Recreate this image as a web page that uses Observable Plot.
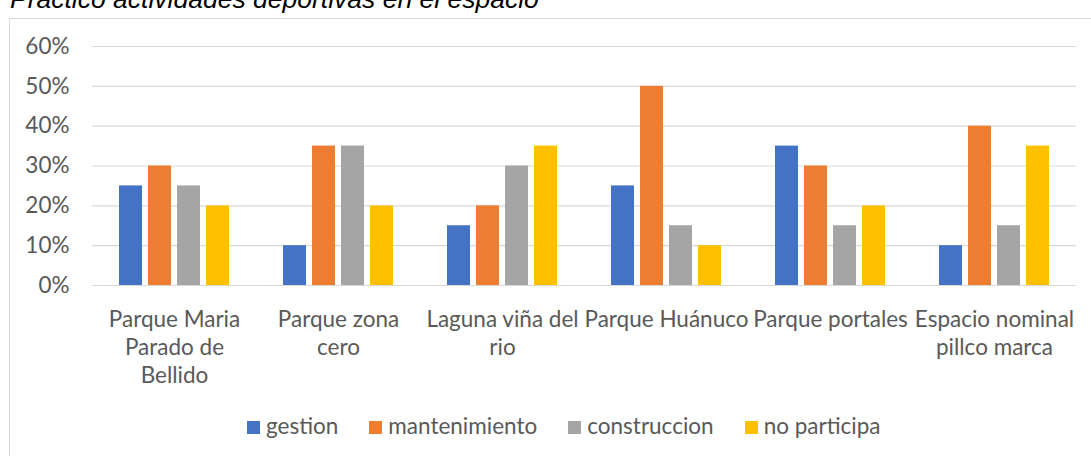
<!DOCTYPE html>
<html>
<head>
<meta charset="utf-8">
<script src="https://cdn.jsdelivr.net/npm/d3@7"></script>
<script src="https://cdn.jsdelivr.net/npm/@observablehq/plot@0.6"></script>
<style>
body{margin:0;background:#fff;overflow:hidden;width:1091px;height:456px;position:relative;}
#title{position:absolute;left:10px;top:-14.4px;font:italic 26.5px/26.5px "Liberation Sans",Arial,sans-serif;color:#000;white-space:nowrap;z-index:3;}
#box{position:absolute;left:9px;top:18px;width:1200px;height:600px;border:1px solid #d9d9d9;box-sizing:border-box;z-index:0;}
#chart{position:absolute;left:0;top:0;z-index:1;}
#legend{position:absolute;left:247px;top:411.8px;font:22.5px/27px Lato,sans-serif;color:#595959;white-space:nowrap;z-index:2;}
#legend .item{display:inline-block;margin-right:31px;}
#legend .sw{display:inline-block;width:13px;height:13px;margin-right:6px;vertical-align:baseline;}
</style>
</head>
<body>
<div id="title">Practico actividades deportivas en el espacio</div>
<div id="box"></div>
<div id="chart"></div>
<div id="legend"></div>
<script>
// Categories (x groups) and their tick labels
const places = ["Parque Maria Parado de Bellido", "Parque zona cero", "Laguna viña del rio", "Parque Huánuco", "Parque portales", "Espacio nominal pillco marca"];
const placeLabels = ["Parque Maria\nParado de\nBellido", "Parque zona\ncero", "Laguna viña del\nrio", "Parque Huánuco", "Parque portales", "Espacio nominal\npillco marca"];
// Series
const series = ["gestion", "mantenimiento", "construccion", "no participa"];
const colors = ["#4472C4", "#ED7D31", "#A5A5A5", "#FFC000"];
// Values (%)
const gestion = [25, 10, 15, 25, 35, 10];
const mantenimiento = [30, 35, 20, 50, 30, 40];
const construccion = [25, 35, 30, 15, 15, 15];
const noParticipa = [20, 20, 35, 10, 20, 35];
// Y ticks
const yTicks = [0, 0.1, 0.2, 0.3, 0.4, 0.5, 0.6];

const seriesValues = [gestion, mantenimiento, construccion, noParticipa];
const data = [];
places.forEach((p, i) => {
  series.forEach((s, j) => data.push({place: p, series: s, value: seriesValues[j][i] / 100}));
});
const labelMap = new Map(places.map((p, i) => [p, placeLabels[i]]));

const chart = Plot.plot({
  width: 1091,
  height: 400,
  marginLeft: 91,
  marginRight: 15,
  marginTop: 46,
  marginBottom: 115,
  style: {background: "transparent", fontFamily: "Lato, sans-serif", fontSize: "22.5px", color: "#595959", overflow: "visible"},
  fx: {domain: places, padding: 0},
  x: {domain: series, paddingInner: 0.223, paddingOuter: 0.848, axis: null},
  y: {domain: [0, 0.6], ticks: yTicks, tickFormat: d => Math.round(d * 100) + "%", tickSize: 0, tickPadding: 23, label: null},
  color: {domain: series, range: colors},
  marks: [
    Plot.gridY(yTicks, {stroke: "#d9d9d9", strokeOpacity: 1, strokeWidth: 1.2}),
    Plot.barY(data, {fx: "place", x: "series", y: "value", fill: "series"}),
    Plot.axisFx({anchor: "bottom", tickSize: 0, tickPadding: 22, lineHeight: 1.244, tickFormat: d => labelMap.get(d), label: null, fill: "#595959"})
  ]
});
document.getElementById("chart").appendChild(chart);

// Legend
const leg = document.getElementById("legend");
series.forEach((s, i) => {
  const item = document.createElement("span");
  item.className = "item";
  const sw = document.createElement("span");
  sw.className = "sw";
  sw.style.background = colors[i];
  item.appendChild(sw);
  item.appendChild(document.createTextNode(s));
  leg.appendChild(item);
});
</script>
</body>
</html>
